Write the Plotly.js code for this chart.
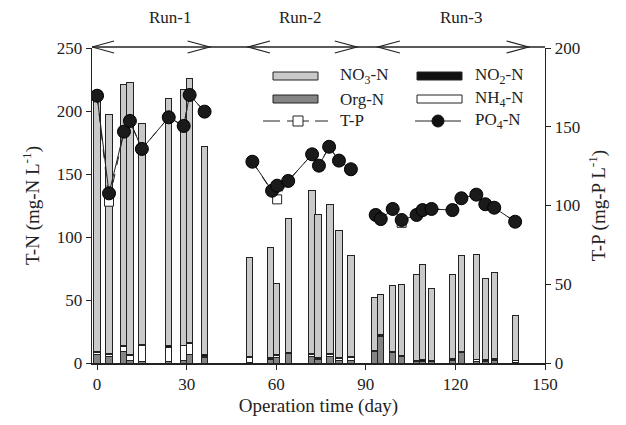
<!DOCTYPE html>
<html>
<head>
<meta charset="utf-8">
<script src="https://cdn.plot.ly/plotly-3.0.1.min.js"></script>
<style>html,body{margin:0;padding:0;background:#fff;}#chart{width:626px;height:425px;}</style>
</head>
<body>
<div id="chart"></div>
<script>
// ---- data ----
var barDays = [0,4,9,11,15,24,29,31,36,51,58,60,64,72,74,78,81,85,93,95,99,102,107,109,112,119,122,127,130,133,140];
var orgN = [6.5,5.3,9.3,2.1,1.3,1.3,2.0,6.6,4.0,0.5,2.6,4.0,7.4,5.3,2.6,5.3,2.1,2.1,9.3,21,8.0,4.8,1.3,1.3,1.3,2.0,8.0,1.3,1.0,1.8,0.5];
var nh4N = [1.5,1.8,3.5,3.7,12.7,11.4,11.7,8.7,1.3,3.5,1.3,1.6,0.3,1.3,1.0,1.6,1.8,2.6,0.3,1.0,0.3,0.3,0.2,0.2,0.2,1.0,0.8,1.3,1.0,0.8,1.3];
var no2N = [0.8,0.8,0.8,0.8,1.0,1.0,0.5,0.6,1.3,0.8,0.8,0.8,0.5,0.8,0.8,1.0,0.5,0.8,0.5,0.5,0.5,0.5,0.8,1.0,0.5,0.4,0.5,0.5,0.5,0.8,0.3];
var no3N = [203.2,189.1,207.4,215.9,175,196.3,202.8,210.1,165.4,79.2,87.3,56.6,106.3,129.6,113.1,118.1,101.1,80.2,41.9,32,52.6,56.4,68.1,75.3,57,67,76.1,83.1,64.7,68.5,35.7];

var pDaysRun1 = [0,4,9,11,15,24,29,31,36];
var pDaysRun2 = [52,58.6,60.3,64,72,74.3,77.7,81,85];
var pDaysRun3 = [93.3,95,99,102,107,109,112,119,122,127,130,133,140];
var po4Run1 = [169.7,107.7,146.9,153.7,135.9,156,150.5,170.2,159.6];
var po4Run2 = [127.8,109.4,112.6,115.6,132.5,125.3,137.3,128.5,123];
var po4Run3 = [94,91.4,97.8,90.8,94,97.1,97.8,97.1,104.6,106.9,100.8,98.6,89.7];
var tpRun1 = [169.7,102.4,146.9,153.7,135.9,156,150.5,170.2,159.6];
var tpRun2 = [127.8,109.4,103.9,115.6,132.5,125.3,137.3,128.5,123];
var tpRun3 = [94,91.4,97.8,89,94,97.1,97.8,97.1,104.6,106.9,100.8,98.6,89.7];

var runLabels = ['Run-1','Run-2','Run-3'];
var runLabelX = [24.5, 68, 122];
var runStart = [-1.7, 50.5, 94];
var runEnd = [37.7, 87, 144.5];

// ---- helpers ----
var pDays = pDaysRun1.concat([null], pDaysRun2, [null], pDaysRun3);
var po4 = po4Run1.concat([null], po4Run2, [null], po4Run3);
var tp = tpRun1.concat([null], tpRun2, [null], tpRun3);

var FONT = 'Liberation Serif, Times New Roman, serif';
var outline = {color:'#222', width:1};
function barTrace(name, y, color){
  return {type:'bar', name:name, x:barDays, y:y, width:2.1,
    marker:{color:color, line:outline}, showlegend:false, hoverinfo:'x+y'};
}
var traces = [
  barTrace('Org-N', orgN, '#858585'),
  barTrace('NH4-N', nh4N, '#ffffff'),
  barTrace('NO2-N', no2N, '#111111'),
  barTrace('NO3-N', no3N, '#c9c9c9'),
  {type:'scatter', mode:'lines+markers', name:'T-P', x:pDays, y:tp, yaxis:'y2',
   line:{color:'#222', width:1, dash:'dash'}, connectgaps:false,
   marker:{symbol:'square', size:9, color:'#fff', line:{color:'#222', width:1}}, showlegend:false},
  {type:'scatter', mode:'lines+markers', name:'PO4-N', x:pDays, y:po4, yaxis:'y2',
   line:{color:'#222', width:1}, connectgaps:false,
   marker:{symbol:'circle', size:13, color:'#1a1a1a', line:{color:'#000', width:1}}, showlegend:false}
];

// plot area in px: left 92, right 545, top 48, bottom 363
var L=92, R=545, T=48, B=363;
function px(x){return (x-L)/(R-L);}
function py(y){return (B-y)/(B-T);}

var shapes = [];
var annotations = [];
// top run arrows
shapes.push({type:'line', xref:'x', yref:'paper', x0:-1.7, x1:150, y0:py(47), y1:py(47), line:{color:'#222', width:1.3}});
var chevW = 7.4, chevH = 6/315;
for (var i=0;i<runStart.length;i++){
  var s = runStart[i], e = runEnd[i], y0 = py(47);
  shapes.push({type:'path', xref:'x', yref:'paper',
    path:'M'+(s+chevW)+','+(y0+chevH)+' L'+s+','+y0+' L'+(s+chevW)+','+(y0-chevH),
    line:{color:'#222', width:1.2}});
  shapes.push({type:'path', xref:'x', yref:'paper',
    path:'M'+(e-chevW)+','+(y0+chevH)+' L'+e+','+y0+' L'+(e-chevW)+','+(y0-chevH),
    line:{color:'#222', width:1.2}});
  annotations.push({xref:'x', yref:'paper', x:runLabelX[i], y:py(18), yanchor:'middle', text:runLabels[i], showarrow:false,
    font:{family:FONT, size:17, color:'#222'}});
}

// manual legend
var legItems = [
  {col:0,row:0,type:'box',color:'#c9c9c9',text:'NO<sub>3</sub>-N'},
  {col:0,row:1,type:'box',color:'#858585',text:'Org-N'},
  {col:0,row:2,type:'tp',text:'T-P'},
  {col:1,row:0,type:'box',color:'#111111',text:'NO<sub>2</sub>-N'},
  {col:1,row:1,type:'box',color:'#ffffff',text:'NH<sub>4</sub>-N'},
  {col:1,row:2,type:'po4',text:'PO<sub>4</sub>-N'}
];
var rowY = [76, 99, 121];
var colBox = [[273,318],[417,462]];
var colText = [338, 473];
legItems.forEach(function(it){
  var yc = rowY[it.row], bx = colBox[it.col];
  if (it.type==='box'){
    shapes.push({type:'rect', xref:'paper', yref:'paper', x0:px(bx[0]), x1:px(bx[1]), y0:py(yc+4), y1:py(yc-4),
      fillcolor:it.color, line:{color:'#222', width:1}});
  } else if (it.type==='tp'){
    shapes.push({type:'line', xref:'paper', yref:'paper', x0:px(263), x1:px(280), y0:py(yc), y1:py(yc), line:{color:'#222', width:1}});
    shapes.push({type:'line', xref:'paper', yref:'paper', x0:px(287), x1:px(309), y0:py(yc), y1:py(yc), line:{color:'#222', width:1}});
    shapes.push({type:'line', xref:'paper', yref:'paper', x0:px(315), x1:px(328), y0:py(yc), y1:py(yc), line:{color:'#222', width:1}});
    shapes.push({type:'rect', xref:'paper', yref:'paper', x0:px(293), x1:px(303), y0:py(yc+5), y1:py(yc-5), fillcolor:'#fff', line:{color:'#222', width:1}});
  } else {
    shapes.push({type:'line', xref:'paper', yref:'paper', x0:px(415), x1:px(461), y0:py(yc), y1:py(yc), line:{color:'#222', width:1}});
    shapes.push({type:'circle', xref:'paper', yref:'paper', x0:px(432), x1:px(444), y0:py(yc+6), y1:py(yc-6), fillcolor:'#111', line:{color:'#111', width:1}});
  }
  annotations.push({xref:'paper', yref:'paper', x:px(colText[it.col]), y:py(yc), xanchor:'left', yanchor:'middle',
    text:it.text, showarrow:false, font:{family:FONT, size:17, color:'#222'}});
});

var layout = {
  width:626, height:425,
  margin:{l:L, r:626-R, t:T, b:425-B},
  paper_bgcolor:'#fff', plot_bgcolor:'#fff',
  barmode:'stack', bargap:0,
  showlegend:false,
  font:{family:FONT, size:17, color:'#222'},
  xaxis:{range:[-1.7,150], tickvals:[0,30,60,90,120,150], ticks:'outside', ticklen:5, tickcolor:'#222',
    showline:true, linecolor:'#222', linewidth:1.6, showgrid:false, zeroline:false,
    title:{text:'Operation time (day)', font:{family:FONT, size:19}, standoff:5},
    tickfont:{family:FONT, size:17}},
  yaxis:{range:[0,250], tickvals:[0,50,100,150,200,250], ticks:'outside', ticklen:5, tickcolor:'#222',
    showline:true, linecolor:'#222', linewidth:1.3, showgrid:false, zeroline:false,
    title:{text:'T-N (mg-N L<sup>-1</sup>)', font:{family:FONT, size:19}, standoff:12},
    tickfont:{family:FONT, size:17}},
  yaxis2:{range:[0,200], tickvals:[0,50,100,150,200], overlaying:'y', side:'right', ticks:'outside', ticklen:5, tickcolor:'#222',
    showline:true, linecolor:'#222', linewidth:1.3, showgrid:false, zeroline:false,
    title:{text:'T-P (mg-P L<sup>-1</sup>)', font:{family:FONT, size:19}, standoff:12},
    tickfont:{family:FONT, size:17}},
  shapes:shapes,
  annotations:annotations
};
Plotly.newPlot('chart', traces, layout, {displayModeBar:false, staticPlot:true});
</script>
</body>
</html>
